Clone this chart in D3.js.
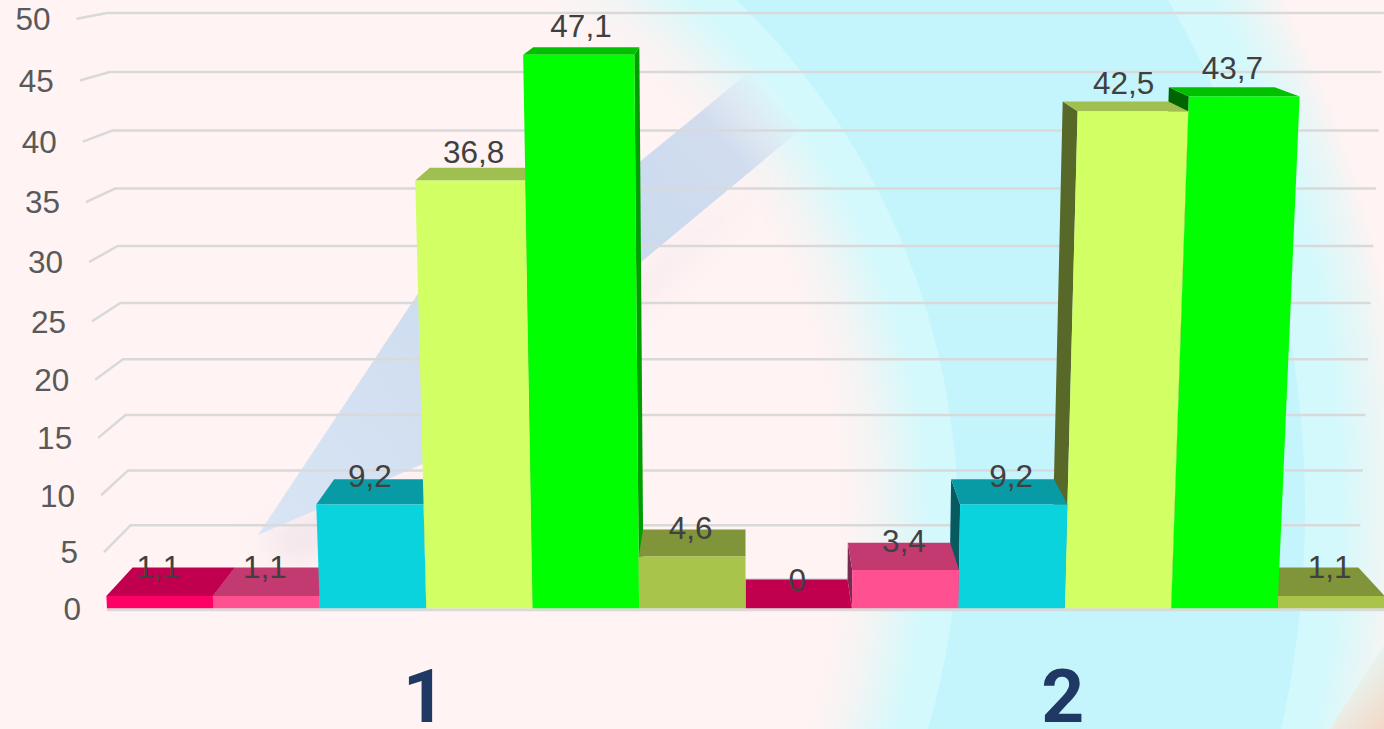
<!DOCTYPE html>
<html>
<head>
<meta charset="utf-8">
<title>Chart</title>
<script src="https://cdn.jsdelivr.net/npm/d3@7"></script>
<style>
  html, body { margin: 0; padding: 0; background: #fff3f3; overflow: hidden; }
  svg { display: block; }
  text { font-family: "Liberation Sans", Arial, sans-serif; }
</style>
</head>
<body>
<div id="chart"></div>
<script>
/***** Data *****/

const groups = ["1", "2"];
const series = ["a", "b", "c", "d", "e", "f"];
const values = [1.1, 1.1, 9.2, 36.8, 47.1, 4.6, 0, 3.4, 9.2, 42.5, 43.7, 1.1];
const valueLabels = ["1,1", "1,1", "9,2", "36,8", "47,1", "4,6", "0", "3,4", "9,2", "42,5", "43,7", "1,1"];
const ticks = [0, 5, 10, 15, 20, 25, 30, 35, 40, 45, 50];

const frontColors = ["#ff0066", "#ff5092", "#0bd3de", "#d2ff64", "#00ff00", "#a8c44a"];
const topColors = ["#c0004e", "#c23a70", "#089ba5", "#9fc050", "#00c000", "#80943a"];
const sideColors = ["#7a0032", "#7a2a50", "#065a60", "#586828", "#006400", "#505e24"];

(function (d3) {
    "use strict";

    /***** Configuration *****/

    const width = 1384;
    const height = 729;

    // perspective of the 3D box, measured on the reference
    const center_x = 745;
    const base_y = 608.3;
    const depth_y = 28.8;
    const depth_x_shrink = 0.041;
    const depth_y_shrink = 0.034;

    /***** Scales *****/

    var x_group = d3.scaleBand().domain(groups).range([107, 1384]);
    var x_bar = d3.scaleBand().domain(series).range([0, x_group.bandwidth()]);
    var y_height = d3.scaleLinear().domain([0, 50]).range([0, 559.5]);

    // floor x, value, depth (0 front, 1 back) -> screen
    function project(x, v, d) {
        var xk = (1 - depth_x_shrink * d) / (1 - (0.00091 - 0.00009 * d) * v);
        var yk = (1 - depth_y_shrink * d) / (1 - (0.00102 - 0.0001 * d) * v);
        return [center_x + (x - center_x) * xk, base_y - depth_y * d - y_height(v) * yk];
    }

    function poly(points) {
        return points.map(p => p.map(n => n.toFixed(2)).join(",")).join(" ");
    }

    var svg = d3.select("#chart")
        .append("svg")
        .attr("width", width)
        .attr("height", height);

    /***** Background *****/

    var defs = svg.append("defs");

    function gradient(el, stops) {
        stops.forEach(s => el.append("stop")
            .attr("offset", s[0])
            .attr("stop-color", s[1])
            .attr("stop-opacity", s[2] === undefined ? 1 : s[2]));
    }

    var outer = defs.append("radialGradient").attr("id", "outer")
        .attr("gradientUnits", "userSpaceOnUse")
        .attr("cx", 300).attr("cy", 500).attr("r", 1105);
    gradient(outer, [[0.94, "#d3f9fc"], [0.98, "#eef5f5"], [1, "#fff3f3"]]);

    var inner = defs.append("radialGradient").attr("id", "inner")
        .attr("gradientUnits", "userSpaceOnUse")
        .attr("cx", 232).attr("cy", 522).attr("r", 726);
    gradient(inner, [[0.84, "#fff3f3"], [0.89, "#f3f4f4"], [0.96, "#d3f9fc"], [1, "#d3f9fc"]]);

    var beam = defs.append("linearGradient").attr("id", "beam")
        .attr("gradientUnits", "userSpaceOnUse")
        .attr("x1", 258).attr("y1", 535).attr("x2", 800).attr("y2", 90);
    gradient(beam, [[0, "#d9e5f4"], [0.6, "#c9d9ee"], [0.87, "#c9d9ee", 0.85], [0.97, "#c9d9ee", 0]]);

    var peach = defs.append("linearGradient").attr("id", "peach")
        .attr("gradientUnits", "userSpaceOnUse")
        .attr("x1", 1345).attr("y1", 690).attr("x2", 1384).attr("y2", 725);
    gradient(peach, [[0, "#e8f3ef"], [1, "#f3d9c8"]]);

    defs.append("filter").attr("id", "blur")
        .attr("x", "-20%").attr("y", "-20%").attr("width", "140%").attr("height", "140%")
        .append("feGaussianBlur").attr("stdDeviation", 16);

    var bg = svg.append("g");
    bg.append("rect").attr("width", width).attr("height", height).attr("fill", "url(#outer)");
    bg.append("circle").attr("cx", 287).attr("cy", 510).attr("r", 1018).attr("fill", "#c4f4fc");
    bg.append("circle").attr("cx", 232).attr("cy", 522).attr("r", 726).attr("fill", "url(#inner)");
    bg.append("polygon")
        .attr("points", "258,540 423,475 640,283 780,160 640,300 420,480 300,560")
        .attr("fill", "#e6d8e6").attr("opacity", 0.7).attr("filter", "url(#blur)");
    bg.append("polygon")
        .attr("points", "258,535 425,283 520,260 748,73 800,130 640,263 423,464")
        .attr("fill", "url(#beam)");
    bg.append("polygon")
        .attr("points", "1384,645 1330,729 1384,729")
        .attr("fill", "url(#peach)");

    /***** Grid *****/

    var grid = svg.append("g")
        .attr("fill", "none")
        .attr("stroke", "#d9d9d9")
        .attr("stroke-width", 2.5);

    ticks.forEach(function (t) {
        var a = project(107, t, 0), b = project(107, t, 1), c = project(1384, t, 1);
        grid.append("polyline").attr("points", poly([a, b, c]));
    });

    // floor front edge
    var floor_a = project(107, 0, 0), floor_b = project(1384, 0, 0);
    grid.append("line")
        .attr("x1", floor_a[0]).attr("y1", floor_a[1] + 1.5)
        .attr("x2", floor_b[0]).attr("y2", floor_b[1] + 1.5)
        .attr("stroke-width", 3);

    /***** Bars *****/

    var bars = values.map(function (v, i) {
        var g = groups[Math.floor(i / series.length)];
        var s = i % series.length;
        var x0 = x_group(g) + x_bar(series[s]);
        return { v: v, i: i, s: s, x0: x0, x1: x0 + x_bar.bandwidth() };
    });

    // outer bars first, the ones near the middle cover them
    var ordered = bars.slice().sort((a, b) =>
        Math.abs((b.x0 + b.x1) / 2 - center_x) - Math.abs((a.x0 + a.x1) / 2 - center_x));

    var bar_g = svg.append("g").selectAll("g")
        .data(ordered)
        .join("g");

    bar_g.append("polygon")
        .attr("fill", d => d.x1 > center_x + 1
            ? sideColors[d.s]
            : d3.rgb(sideColors[d.s]).brighter(1.3).formatHex())
        .attr("points", function (d) {
            var x = d.x1 > center_x + 1 ? d.x0 : d.x1;
            return poly([project(x, 0, 0), project(x, d.v, 0), project(x, d.v, 1), project(x, 0, 1)]);
        });

    bar_g.append("polygon")
        .attr("fill", d => topColors[d.s])
        .attr("points", d => poly([project(d.x0, d.v, 0), project(d.x1, d.v, 0), project(d.x1, d.v, 1), project(d.x0, d.v, 1)]));

    bar_g.append("polygon")
        .attr("fill", d => frontColors[d.s])
        .attr("points", d => poly([project(d.x0, 0, 0), project(d.x1, 0, 0), project(d.x1, d.v, 0), project(d.x0, d.v, 0)]));

    /***** Labels *****/

    // value labels
    svg.append("g").selectAll("text")
        .data(bars)
        .join("text")
        .attr("x", function (d) {
            var c = (d.x0 + d.x1) / 2;
            return center_x + (c - center_x) * (1 + 0.00045 * d.v) - 1.5;
        })
        .attr("y", d => project(d.x0, d.v, 0)[1] - 29)
        .attr("dy", "0.36em")
        .attr("text-anchor", "middle")
        .attr("font-size", 31.5)
        .attr("fill", "#404040")
        .text(d => valueLabels[d.i]);

    // value axis
    svg.append("g").selectAll("text")
        .data(ticks)
        .join("text")
        .attr("x", d => project(107, d, 0)[0] - 26)
        .attr("y", d => project(107, d, 0)[1])
        .attr("dy", "0.36em")
        .attr("text-anchor", "end")
        .attr("font-size", 31.5)
        .attr("fill", "#595959")
        .text(d => d);

    // group labels
    svg.append("g").selectAll("text")
        .data(groups)
        .join("text")
        .attr("x", d => x_group(d) + x_group.bandwidth() / 2 - 2)
        .attr("y", 722)
        .attr("text-anchor", "middle")
        .attr("font-size", 75)
        .attr("font-weight", "bold")
        .style("font-family", "Roboto, 'Liberation Sans', sans-serif")
        .attr("fill", "#203864")
        .text(d => d);

})(d3);
</script>
</body>
</html>
